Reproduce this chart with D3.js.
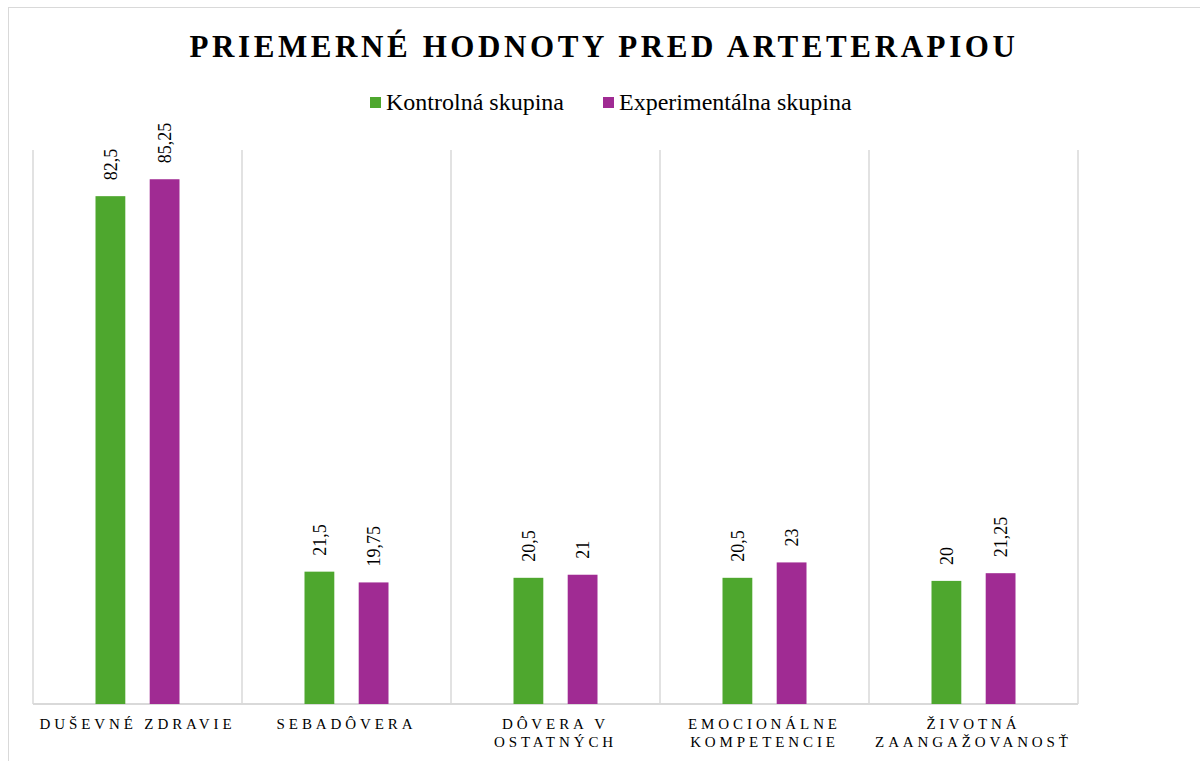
<!DOCTYPE html>
<html>
<head>
<meta charset="utf-8">
<script src="https://cdn.jsdelivr.net/npm/d3@7"></script>
<style>
  body { margin: 0; background: #fff; }
</style>
</head>
<body>
<svg id="viz"></svg>
<script>
// data
var categories = ["DUŠEVNÉ ZDRAVIE", "SEBADÔVERA", "DÔVERA V OSTATNÝCH", "EMOCIONÁLNE KOMPETENCIE", "ŽIVOTNÁ ZAANGAŽOVANOSŤ"]
var series = ["Kontrolná skupina", "Experimentálna skupina"]
var kontrolna = [82.5, 21.5, 20.5, 20.5, 20]
var experimentalna = [85.25, 19.75, 21, 23, 21.25]
var colors = ["#4EA72E", "#A02B93"]

var width = 1200
var height = 761
var serif = "'Liberation Serif', 'Times New Roman', Times, serif"

var svg = d3.select("#viz")
	.attr("width", width)
	.attr("height", height)
	.style("font-family", serif)

// chart border (runs off the right/bottom edge like the original)
svg.append("rect")
	.attr("x", 8.5).attr("y", 7.5)
	.attr("width", 1300).attr("height", 900)
	.attr("fill", "none")
	.attr("stroke", "#d9d9d9")

var plot = { left: 33, right: 1078, top: 150, bottom: 704 }

var x0 = d3.scaleBand().domain(categories).range([plot.left, plot.right]).padding(0)
var cw = x0.bandwidth()
var x1 = d3.scaleBand().domain(series).range([cw / 2 - 42, cw / 2 + 42]).paddingInner(0.45)
var y = d3.scaleLinear().domain([0, 90]).range([plot.bottom, plot.top])

// title
svg.append("text")
	.attr("x", 604)
	.attr("y", 57)
	.attr("text-anchor", "middle")
	.attr("font-family", serif)
	.style("font-size", "31px")
	.style("font-weight", "bold")
	.style("letter-spacing", "3.6px")
	.text("PRIEMERNÉ HODNOTY PRED ARTETERAPIOU")

// legend
var legendX = [370, 603]
series.forEach(function(s, i) {
	svg.append("rect")
		.attr("x", legendX[i]).attr("y", 97)
		.attr("width", 11).attr("height", 11)
		.attr("fill", colors[i])
	svg.append("text")
		.attr("x", legendX[i] + 16)
		.attr("y", 110)
		.attr("font-family", serif)
		.style("font-size", "24px")
		.text(s)
})

// gridlines at category boundaries
var bounds = categories.map(function(c) { return x0(c) }).concat([plot.right])
svg.selectAll("line.grid")
	.data(bounds)
	.enter()
	.append("line")
	.attr("class", "grid")
	.attr("x1", d => d).attr("x2", d => d)
	.attr("y1", plot.top).attr("y2", plot.bottom)
	.attr("stroke", "#d9d9d9")
	.attr("stroke-width", 1.5)

svg.append("line")
	.attr("x1", plot.left).attr("x2", plot.right)
	.attr("y1", plot.bottom).attr("y2", plot.bottom)
	.attr("stroke", "#d9d9d9")
	.attr("stroke-width", 2)

var rows = []
categories.forEach(function(c, i) {
	rows.push({ cat: c, s: series[0], v: kontrolna[i], color: colors[0] })
	rows.push({ cat: c, s: series[1], v: experimentalna[i], color: colors[1] })
})

svg.selectAll("rect.bar")
	.data(rows)
	.enter()
	.append("rect")
	.attr("class", "bar")
	.attr("x", d => x0(d.cat) + x1(d.s))
	.attr("y", d => y(d.v))
	.attr("width", x1.bandwidth())
	.attr("height", d => plot.bottom - y(d.v))
	.attr("fill", d => d.color)

// value labels, rotated, reading upwards from just above the bar
svg.selectAll("text.value")
	.data(rows)
	.enter()
	.append("text")
	.attr("class", "value")
	.attr("text-anchor", "start")
	.attr("dy", "0.35em")
	.attr("font-family", serif)
	.style("font-size", "18px")
	.attr("transform", function(d) {
		var cx = x0(d.cat) + x1(d.s) + x1.bandwidth() / 2
		return "translate(" + cx + "," + (y(d.v) - 16) + ") rotate(-90)"
	})
	.text(d => String(d.v).replace(".", ","))

// category labels, wrapped to the band width
var catLabels = svg.selectAll("text.cat")
	.data(categories)
	.enter()
	.append("text")
	.attr("class", "cat")
	.attr("text-anchor", "middle")
	.attr("font-family", serif)
	.style("font-size", "15px")
	.style("letter-spacing", "3.9px")
	.attr("x", d => x0(d) + cw / 2)
	.attr("y", 729)

catLabels.each(function(d) {
	var el = d3.select(this)
	var words = d.split(" ")
	var line = []
	var tspan = el.append("tspan").attr("x", x0(d) + cw / 2).attr("dy", 0)
	words.forEach(function(w) {
		line.push(w)
		tspan.text(line.join(" "))
		if (tspan.node().getComputedTextLength() > cw - 4 && line.length > 1) {
			line.pop()
			tspan.text(line.join(" "))
			line = [w]
			tspan = el.append("tspan").attr("x", x0(d) + cw / 2).attr("dy", "1.2em").text(w)
		}
	})
})
</script>
</body>
</html>
